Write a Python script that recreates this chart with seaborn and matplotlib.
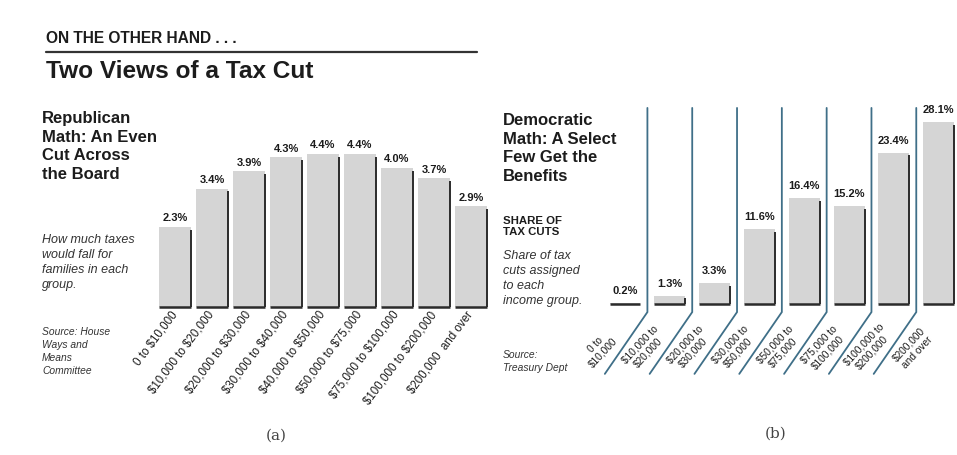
import matplotlib
matplotlib.use("Agg")
import matplotlib.pyplot as plt
import seaborn as sns
import pandas as pd

# ---------------- data ----------------
rep_groups = ["0 to $10,000", "$10,000 to $20,000", "$20,000 to $30,000",
              "$30,000 to $40,000", "$40,000 to $50,000", "$50,000 to $75,000",
              "$75,000 to $100,000", "$100,000 to $200,000", "$200,000  and over"]
rep_values = [2.3, 3.4, 3.9, 4.3, 4.4, 4.4, 4.0, 3.7, 2.9]

dem_groups = ["0 to\n$10,000", "$10,000 to\n$20,000", "$20,000 to\n$30,000",
              "$30,000 to\n$50,000", "$50,000 to\n$75,000", "$75,000 to\n$100,000",
              "$100,000 to\n$200,000", "$200,000\nand over"]
dem_values = [0.2, 1.3, 3.3, 11.6, 16.4, 15.2, 23.4, 28.1]

# ---------------- style ----------------
sns.set_theme(style="white")
plt.rcParams["font.family"] = ["Liberation Sans", "DejaVu Sans"]
plt.rcParams["text.parse_math"] = False

BAR = "#d5d5d5"
EDGE = "#2b2b2b"
TXT = "#1c1c1c"
SEP = "#3f6f88"

W, H = 957, 455
fig = plt.figure(figsize=(W / 100, H / 100), dpi=100)
fig.patch.set_facecolor("white")


def fx(px):
    return px / W


def fy(py):
    return 1 - py / H


def bar_edges(ax, drop):
    for p in ax.containers[0]:
        x0, w, h = p.get_x(), p.get_width(), p.get_height()
        ax.plot([x0 + w, x0 + w], [0, max(h - drop, 0)], color=EDGE, lw=1.4,
                solid_capstyle="butt", clip_on=False)
        ax.plot([x0, x0 + w], [0, 0], color=EDGE, lw=1.8,
                solid_capstyle="butt", clip_on=False)


def clean(ax):
    ax.set_xlabel("")
    ax.set_ylabel("")
    ax.set_yticks([])
    sns.despine(ax=ax, left=True, bottom=True)
    ax.set_facecolor("none")


# ---------------- header ----------------
fig.text(fx(46), fy(43), "ON THE OTHER HAND . . .", fontsize=11.2,
         fontweight="bold", color=TXT, va="baseline")
fig.add_artist(plt.Line2D([fx(46), fx(477)], [fy(52), fy(52)], color="#333333", lw=1.6))
fig.text(fx(46), fy(78), "Two Views of a Tax Cut", fontsize=17.6,
         fontweight="bold", color=TXT, va="baseline")

# ---------------- panel (a) ----------------
dfA = pd.DataFrame({"group": rep_groups, "value": rep_values})
axA = fig.add_axes([fx(156.5), fy(307), 333 / W, 177 / H])
sns.barplot(data=dfA, x="group", y="value", order=rep_groups, ax=axA,
            color=BAR, saturation=1, width=0.89, edgecolor="none")
axA.set_xlim(-0.5, 8.5)
axA.set_ylim(0, 177 / 34.8)
bar_edges(axA, 0.08)
axA.bar_label(axA.containers[0], labels=[f"{v}%" for v in rep_values],
              padding=2.5, fontsize=8, fontweight="bold", color=TXT)
axA.set_xticks(range(len(rep_groups)))
axA.set_xticklabels(rep_groups, rotation=53, ha="right", va="center",
                    rotation_mode="anchor", fontsize=8.3, color=TXT)
axA.tick_params(axis="x", length=0, pad=4)
clean(axA)

fig.text(fx(42), fy(111), "Republican\nMath: An Even\nCut Across\nthe Board",
         fontsize=12, fontweight="bold", color=TXT, va="top", linespacing=1.3)
fig.text(fx(42), fy(234), "How much taxes\nwould fall for\nfamilies in each\ngroup.",
         fontsize=9, style="italic", color="#333333", va="top", linespacing=1.35)
fig.text(fx(42), fy(327), "Source: House\nWays and\nMeans\nCommittee",
         fontsize=7.4, style="italic", color="#333333", va="top", linespacing=1.38)
fig.text(fx(276), fy(436), "(a)", fontsize=11, family="DejaVu Serif",
         color="#444444", ha="center", va="center")

# ---------------- panel (b) ----------------
dfB = pd.DataFrame({"group": dem_groups, "value": dem_values})
axB = fig.add_axes([fx(602.6), fy(304), 354 / W, 200.6 / H])
sns.barplot(data=dfB, x="group", y="value", order=dem_groups, ax=axB,
            color=BAR, saturation=1, width=0.69, edgecolor="none")
axB.set_xlim(-0.5, 7.4)
axB.set_ylim(0, 31)
bar_edges(axB, 0.45)
axB.bar_label(axB.containers[0], labels=[f"{v}%" for v in dem_values],
              padding=5, fontsize=8, fontweight="bold", color=TXT)
axB.set_xticks([])
for i, g in enumerate(dem_groups):
    axB.text(i - 0.57, -6.9, g, rotation=47, ha="center", va="center",
             multialignment="center", fontsize=7.3, color=TXT,
             linespacing=1.15, rotation_mode="anchor", clip_on=False)
# divider lines between the income groups
for i in range(len(dem_groups) - 1):
    xm = i + 0.5
    axB.plot([xm, xm, xm - 0.95], [30.3, -1.25, -10.8], color=SEP, lw=1.3,
             clip_on=False, solid_joinstyle="miter")
clean(axB)

fig.text(fx(503), fy(113), "Democratic\nMath: A Select\nFew Get the\nBenefits",
         fontsize=12, fontweight="bold", color=TXT, va="top", linespacing=1.3)
fig.text(fx(503), fy(216), "SHARE OF\nTAX CUTS", fontsize=8.2, fontweight="bold",
         color=TXT, va="top", linespacing=1.15)
fig.text(fx(503), fy(250), "Share of tax\ncuts assigned\nto each\nincome group.",
         fontsize=9, style="italic", color="#333333", va="top", linespacing=1.35)
fig.text(fx(503), fy(350), "Source:\nTreasury Dept", fontsize=7.4,
         style="italic", color="#333333", va="top", linespacing=1.4)
fig.text(fx(776), fy(434), "(b)", fontsize=11, family="DejaVu Serif",
         color="#444444", ha="center", va="center")

fig.savefig("out.png", dpi=100, facecolor="white")
